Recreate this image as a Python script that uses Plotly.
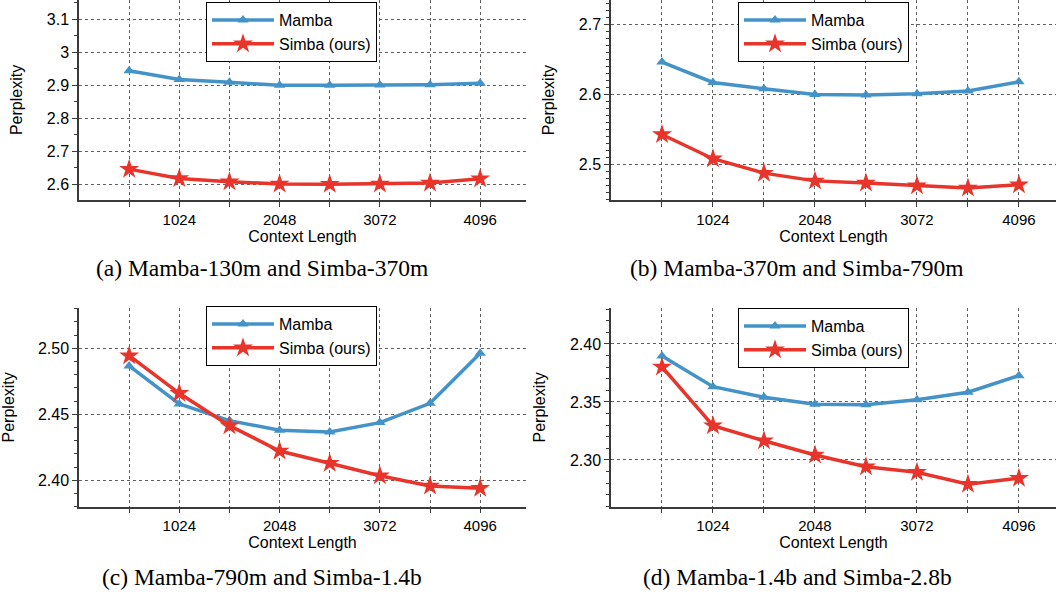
import plotly.graph_objects as go

context_len = [512, 1024, 1536, 2048, 2560, 3072, 3584, 4096]
x_tick_vals = [512, 1024, 1536, 2048, 2560, 3072, 3584, 4096]
x_tick_text = ["", "1024", "", "2048", "", "3072", "", "4096"]

mamba_a = [2.943, 2.917, 2.908, 2.899, 2.899, 2.900, 2.901, 2.905]
simba_a = [2.645, 2.617, 2.607, 2.600, 2.599, 2.600, 2.603, 2.616]

mamba_b = [2.646, 2.617, 2.608, 2.600, 2.599, 2.601, 2.605, 2.618]
simba_b = [2.543, 2.5085, 2.488, 2.477, 2.474, 2.470, 2.467, 2.4715]

mamba_c = [2.4866, 2.4578, 2.4452, 2.4379, 2.4366, 2.4437, 2.4583, 2.4962]
simba_c = [2.4944, 2.4659, 2.4414, 2.4222, 2.4129, 2.4035, 2.3957, 2.3940]

mamba_d = [2.3897, 2.3632, 2.3540, 2.3480, 2.3475, 2.3520, 2.3584, 2.3727]
simba_d = [2.3802, 2.3296, 2.3166, 2.3043, 2.2942, 2.2894, 2.2790, 2.2843]

captions = ["(a) Mamba-130m and Simba-370m", "(b) Mamba-370m and Simba-790m",
            "(c) Mamba-790m and Simba-1.4b", "(d) Mamba-1.4b and Simba-2.8b"]

BLUE = "#4393c8"
RED = "#e8342a"
AXC = "#3a3a3a"
GRID = "#606060"
W, H = 1056, 601

panels = [
    dict(m=mamba_a, s=simba_a, xd=[79 / W, 526 / W], yd=[(H - 200) / H, 1.0], xr=[0, 4564],
         yr=[2.5515, 3.1576], dt=0.1, t0=2.6, mdt=0.05, fmt="", leg=(206, 2)),
    dict(m=mamba_b, s=simba_b, xd=[611 / W, 1.0], yd=[(H - 200) / H, 1.0], xr=[0, 4468],
         yr=[2.4498, 2.7343], dt=0.1, t0=2.5, mdt=0.01, fmt="", leg=(738, 2)),
    dict(m=mamba_c, s=simba_c, xd=[79 / W, 526 / W], yd=[(H - 506.7) / H, (H - 308) / H], xr=[0, 4564],
         yr=[2.3800, 2.5305], dt=0.05, t0=2.40, mdt=0.01, fmt=".2f", leg=(206, 306)),
    dict(m=mamba_d, s=simba_d, xd=[611 / W, 1.0], yd=[(H - 506.7) / H, (H - 308) / H], xr=[0, 4468],
         yr=[2.2597, 2.4310], dt=0.05, t0=2.30, mdt=0.01, fmt=".2f", leg=(738, 308)),
]

fig = go.Figure()
layout = dict(
    width=W, height=H, margin=dict(l=0, r=0, t=0, b=0),
    plot_bgcolor="white", paper_bgcolor="white",
    font=dict(family="Liberation Sans, Arial, sans-serif", size=15, color="black"),
)

for i, p in enumerate(panels):
    n = "" if i == 0 else str(i + 1)
    legname = "legend" + n
    fig.add_trace(go.Scatter(
        x=context_len, y=p["m"], mode="lines+markers", name="Mamba",
        line=dict(color=BLUE, width=3.5),
        marker=dict(symbol="triangle-up", size=10, color=BLUE),
        xaxis="x" + n, yaxis="y" + n, legend=legname))
    fig.add_trace(go.Scatter(
        x=context_len, y=p["s"], mode="lines+markers", name="Simba (ours)",
        line=dict(color=RED, width=3.5),
        marker=dict(symbol="star", size=15, color=RED),
        xaxis="x" + n, yaxis="y" + n, legend=legname))

    layout["xaxis" + n] = dict(
        domain=p["xd"], range=p["xr"], anchor="y" + n,
        tickmode="array", tickvals=x_tick_vals, ticktext=x_tick_text,
        ticks="outside", ticklen=5, tickwidth=1.2, tickcolor=AXC,
        showline=True, linecolor=AXC, linewidth=1.5,
        showgrid=True, gridcolor=GRID, griddash="dot", gridwidth=1,
        zeroline=False, automargin=False,
        tickfont=dict(size=15),
        title=dict(text="Context Length", font=dict(size=16), standoff=2),
    )
    layout["yaxis" + n] = dict(
        domain=p["yd"], range=p["yr"], anchor="x" + n,
        tickmode="linear", tick0=p["t0"], dtick=p["dt"], tickformat=p["fmt"],
        ticks="outside", ticklen=5, tickwidth=1.2, tickcolor=AXC,
        minor=dict(dtick=p["mdt"], tick0=p["t0"], ticks="outside", ticklen=3,
                   tickcolor=AXC, tickwidth=1, showgrid=False),
        showline=True, linecolor=AXC, linewidth=1.5,
        showgrid=True, gridcolor=GRID, griddash="dot", gridwidth=1,
        zeroline=False, automargin=False,
        tickfont=dict(size=16),
        title=dict(text="Perplexity", font=dict(size=16), standoff=20),
    )
    lx, ly = p["leg"]
    layout[legname] = dict(
        x=lx / W, y=1 - ly / H, xanchor="left", yanchor="top",
        bgcolor="white", bordercolor="black", borderwidth=1,
        font=dict(size=16, color="black"), itemwidth=62,
        tracegroupgap=0,
    )

cap_pos = [(262, 268), (797, 268), (262, 577), (797, 577)]
layout["annotations"] = [
    dict(text=c, x=cx / W, y=1 - cy / H, xref="paper", yref="paper",
         xanchor="center", yanchor="middle", showarrow=False,
         font=dict(family="Liberation Serif, Times New Roman, serif", size=23.5, color="black"))
    for c, (cx, cy) in zip(captions, cap_pos)
]

fig.update_layout(**layout)
fig.write_html("out.html")
